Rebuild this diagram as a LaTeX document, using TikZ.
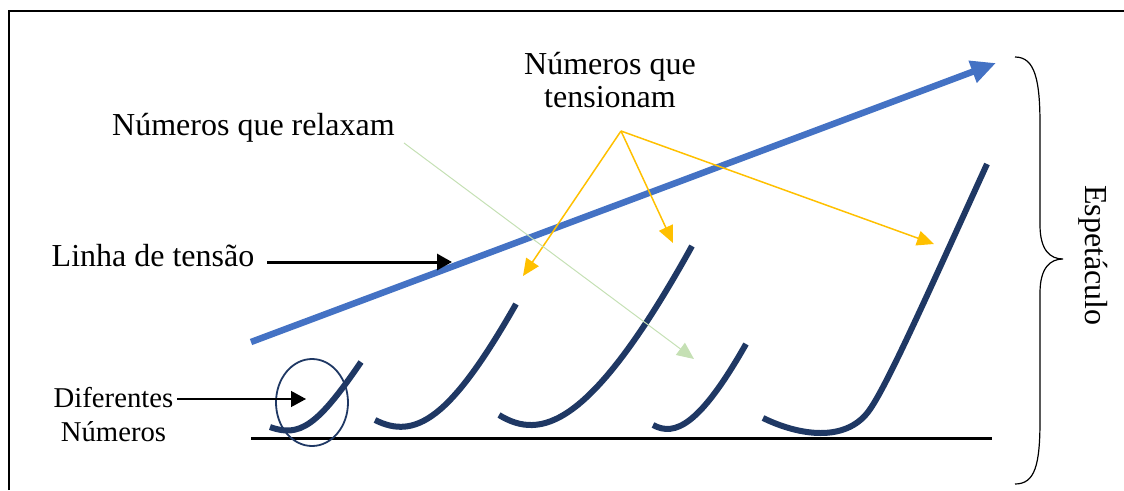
\documentclass[tikz,border=0pt]{standalone}
\usepackage{fontspec}
\setmainfont{Liberation Serif}
\usetikzlibrary{arrows.meta,shapes.geometric}

\definecolor{tensaoblue}{HTML}{4472C4}
\definecolor{numnavy}{HTML}{1F3864}
\definecolor{tensgold}{HTML}{FFC000}
\definecolor{relaxgreen}{HTML}{C5E0B4}

\begin{document}
\begin{tikzpicture}[x=1pt,y=-1pt,
    bigtxt/.style={font=\fontsize{32}{33}\selectfont,inner sep=0pt},
    smalltxt/.style={font=\fontsize{28.7}{34}\selectfont,inner sep=0pt},
    numcurve/.style={numnavy,line width=6pt},
    goldarrow/.style={tensgold,line width=1.5pt,-{Triangle[length=17pt,width=15pt]}},
    blackarrow/.style={black,-{Triangle[length=15pt,width=16pt]}}]
  \useasboundingbox (0,0) rectangle (1124,490);
  \draw[line width=2.5pt] (9,490) -- (9,11) -- (1124,11);

  % labels (base of a two-line node is its last line)
  \node[bigtxt,anchor=base west] (relax) at (112,135) {Números que relaxam};
  \node[bigtxt,anchor=base,align=center] (tens) at (610,107) {Números que\\tensionam};
  \node[bigtxt,anchor=base west] (linha) at (51.5,266.7) {Linha de tensão};
  \node[smalltxt,anchor=base,align=center] (dif) at (113.5,441) {Diferentes\\Números};
  \node[bigtxt,anchor=base west,rotate=-90] (espet) at (1085,185) {Espetáculo};

  % line of tension
  \coordinate (tstart) at (251,342);
  \coordinate (tend) at (996,63);
  \draw[tensaoblue,line width=6.5pt,-{Triangle[length=25pt,width=22pt]}] (tstart) -- (tend);

  % the numbers
  \draw[line width=3pt] (251,438) -- (992,438);
  \draw[numcurve] (270,427) .. controls (300,438) and (318,425) .. (361,362);
  \draw[numcurve] (375,420) .. controls (415,440) and (450,420) .. (516,304);
  \draw[numcurve] (499,415) .. controls (540,440) and (590,430) .. (692,246);
  \draw[numcurve] (653,425) .. controls (675,437) and (700,425) .. (746,344);
  \draw[numcurve] (763,418) .. controls (800,436) and (845,442) .. (868,412)
    .. controls (885,390) and (925,300) .. (987,164);
  \node[draw=numnavy,line width=1.8pt,ellipse,minimum width=72pt,minimum height=87pt,inner sep=0pt] (circ) at (312,402.5) {};

  % pointers
  \coordinate (linhatip) at (452,262);
  \draw[blackarrow,line width=3pt] ([xshift=13pt,yshift=4.7pt]linha.base east) -- (linhatip);
  \coordinate (diftip) at (306,399);
  \draw[blackarrow,line width=1.3pt] ([xshift=4pt,yshift=42pt]dif.base east) -- (diftip);

  \coordinate (tsrc) at (621,131);
  \coordinate (t1) at (523,276);
  \coordinate (t2) at (673,243);
  \coordinate (t3) at (934,244);
  \foreach \t in {t1,t2,t3}
    \draw[goldarrow] (tsrc) -- (\t);

  \coordinate (rsrc) at (404,143);
  \coordinate (rtip) at (694,359);
  \draw[relaxgreen,line width=1pt,-{Triangle[length=17pt,width=15pt]}] (rsrc) -- (rtip);

  % brace
  \draw[line width=1.2pt] (1015,57) .. controls (1035,57) and (1040,80) .. (1040,125)
    -- (1040,225) .. controls (1040,250) and (1050,259) .. (1063,259)
    .. controls (1050,259) and (1040,268) .. (1040,293)
    -- (1040,420) .. controls (1040,465) and (1035,484) .. (1015,484);
\end{tikzpicture}
\end{document}
